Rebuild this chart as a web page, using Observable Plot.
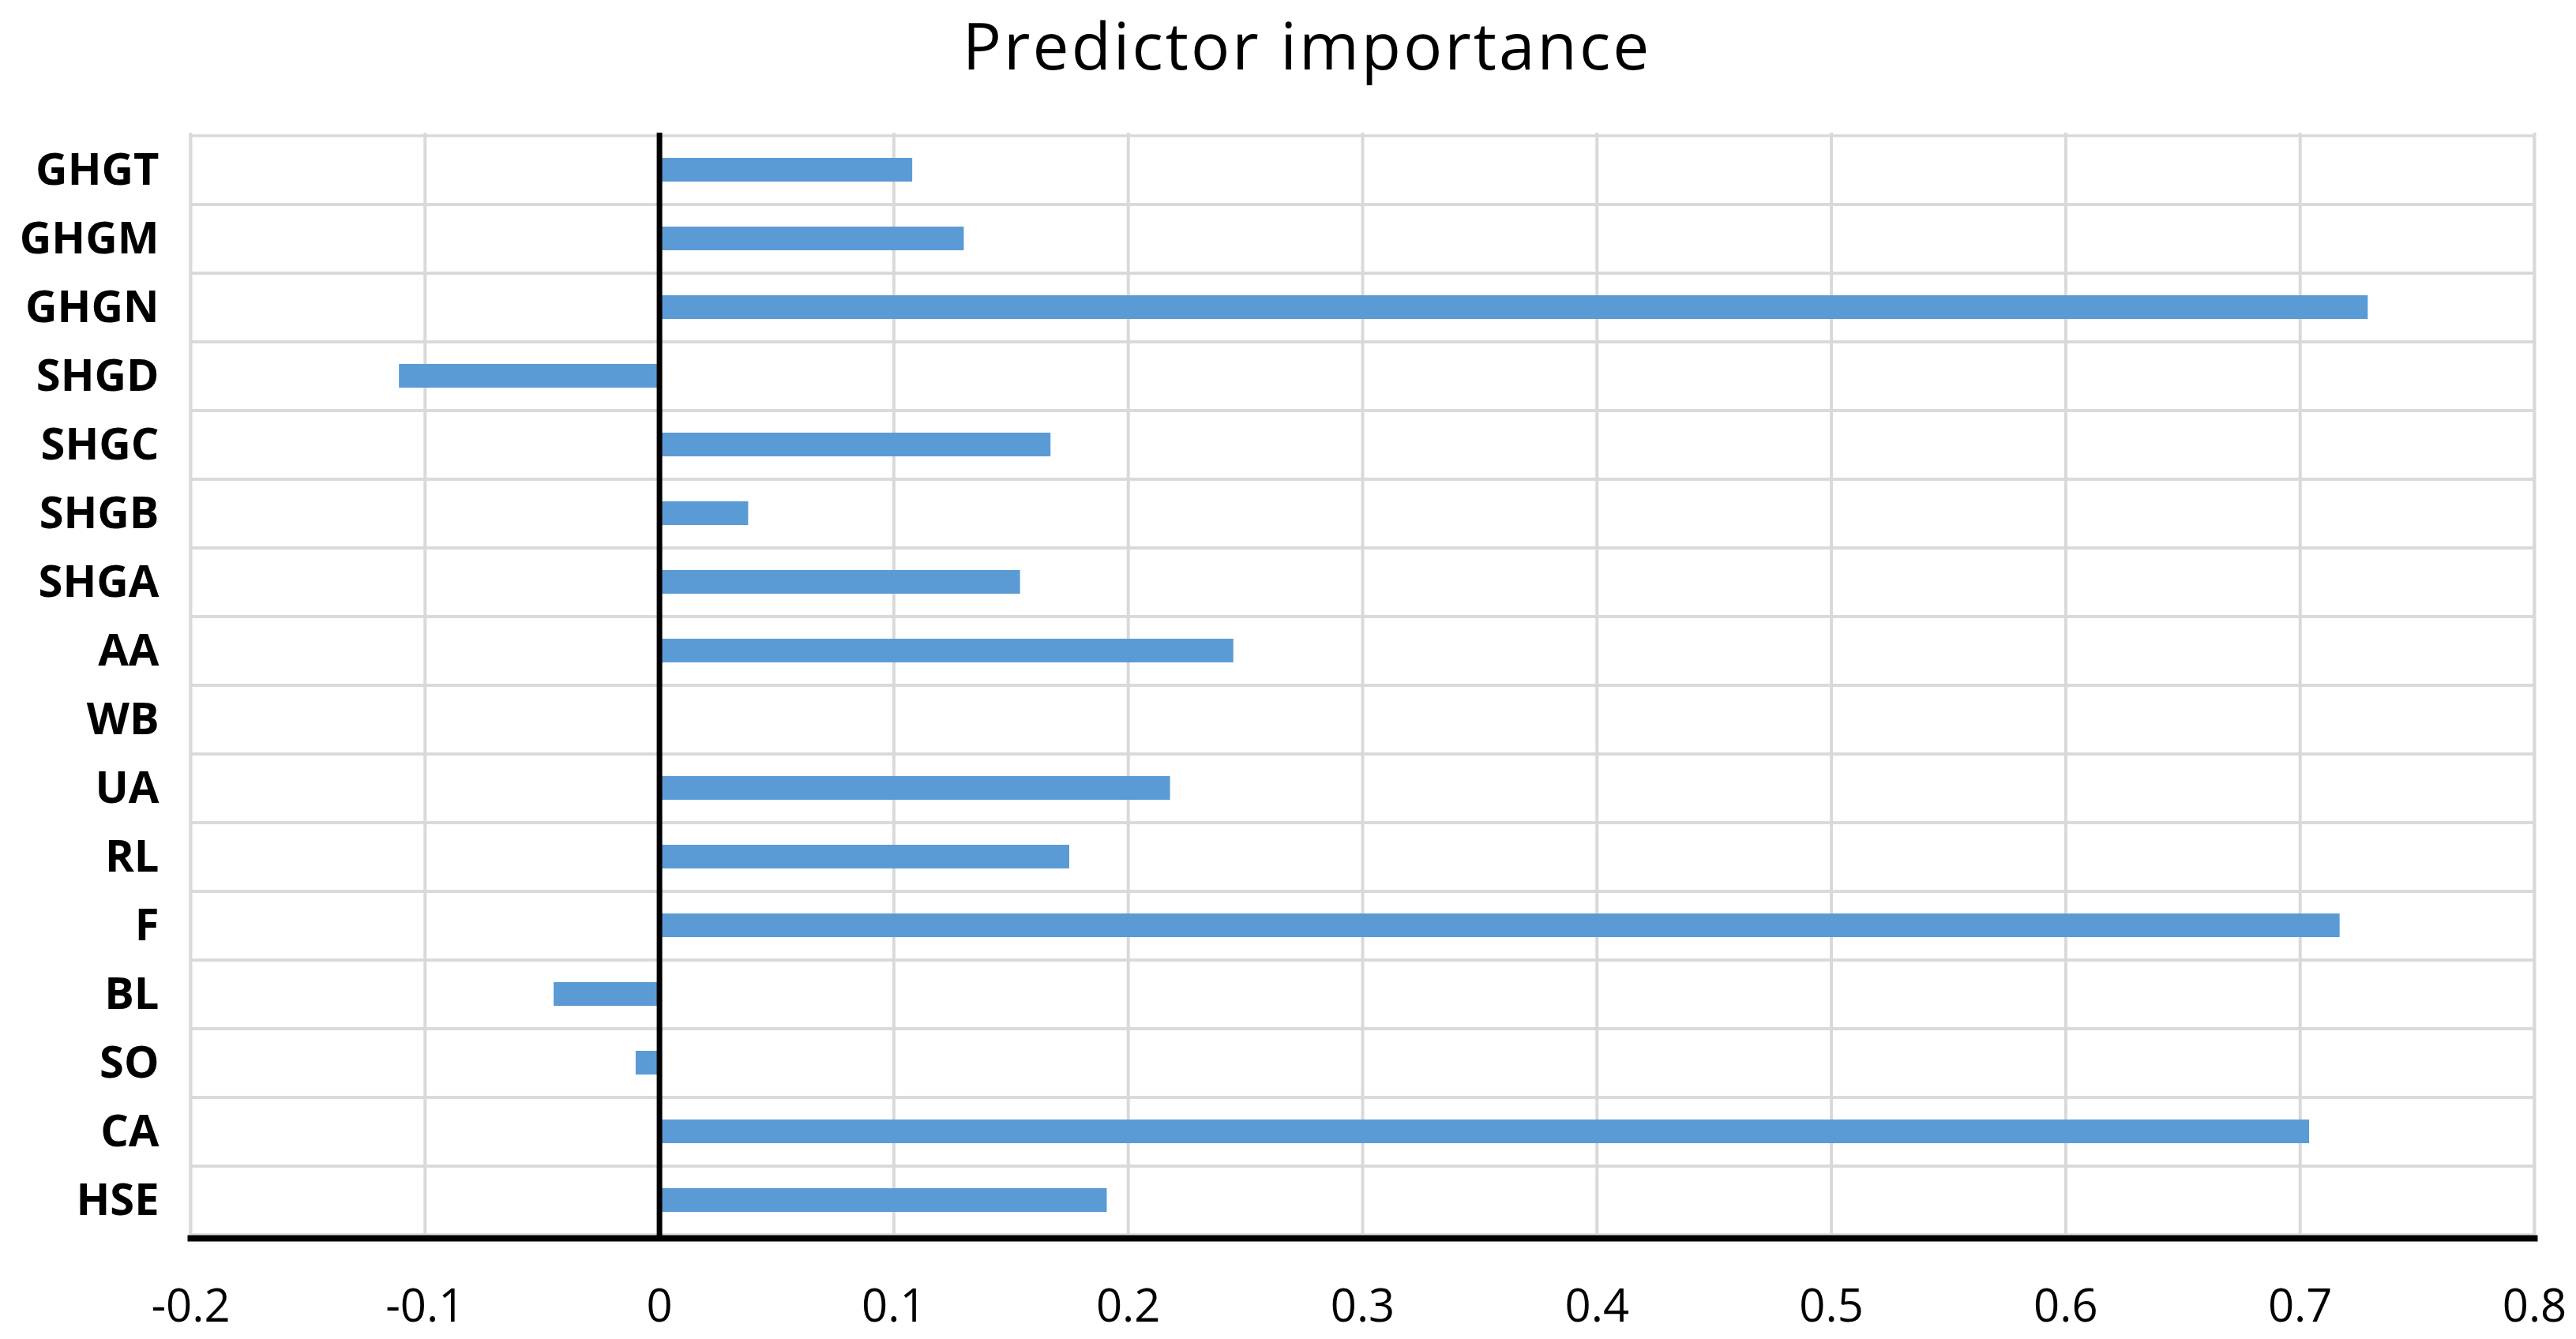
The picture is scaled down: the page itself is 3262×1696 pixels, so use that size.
<!DOCTYPE html>
<html>
<head>
<meta charset="utf-8">
<script src="https://cdn.jsdelivr.net/npm/d3@7"></script>
<script src="https://cdn.jsdelivr.net/npm/@observablehq/plot@0.6"></script>
<style>
  html, body { margin: 0; padding: 0; background: #ffffff; }
  #title {
    box-sizing: border-box;
    width: 3262px;
    height: 130px;
    padding-top: 0px;
    padding-left: 48px;
    text-align: center;
    font-family: "Open Sans", sans-serif;
    font-size: 82px;
    line-height: normal;
    letter-spacing: 3px;
    color: #000000;
  }
  #chart svg { display: block; }
</style>
</head>
<body>
<div id="title">Predictor importance</div>
<div id="chart"></div>
<script>
const categories = ["GHGT","GHGM","GHGN","SHGD","SHGC","SHGB","SHGA","AA","WB","UA","RL","F","BL","SO","CA","HSE"];
const importance = [0.108, 0.130, 0.729, -0.111, 0.167, 0.038, 0.154, 0.245, 0, 0.218, 0.175, 0.717, -0.045, -0.010, 0.704, 0.191];
const xTicks = [-0.2, -0.1, 0, 0.1, 0.2, 0.3, 0.4, 0.5, 0.6, 0.7, 0.8];
const xTickLabels = ["-0.2", "-0.1", "0", "0.1", "0.2", "0.3", "0.4", "0.5", "0.6", "0.7", "0.8"];

const data = categories.map((c, i) => ({predictor: c, value: importance[i]}));
const fmt = d => xTickLabels[xTicks.indexOf(d)];

const chart = Plot.plot({
  width: 3262,
  height: 1560,
  marginTop: 38,
  marginBottom: 122,
  marginLeft: 241,
  marginRight: 53,
  style: {fontFamily: "'Open Sans', sans-serif", color: "#000000", background: "#ffffff"},
  x: {domain: [-0.2, 0.8], axis: null},
  y: {domain: categories, padding: 0, axis: null},
  marks: [
    Plot.ruleX(xTicks, {stroke: "#d9d9d9", strokeWidth: 4}),
    Plot.barX(categories, {y: d => d, x1: -0.2, x2: 0.8, fill: "none", stroke: "#d9d9d9", strokeWidth: 3.5}),
    Plot.barX(data, {y: "predictor", x: "value", fill: "#5B9BD5", insetTop: 28, insetBottom: 29}),
    Plot.ruleX([0], {stroke: "#000000", strokeWidth: 7}),
    Plot.frame({anchor: "bottom", stroke: "#000000", strokeWidth: 8}),
    Plot.axisX({ticks: xTicks, tickFormat: fmt, tickSize: 0, tickPadding: 64, fontSize: 58, label: null}),
    Plot.axisY({tickSize: 0, tickPadding: 40, fontSize: 56, fontWeight: "bold", label: null})
  ]
});
document.getElementById("chart").appendChild(chart);
</script>
</body>
</html>
